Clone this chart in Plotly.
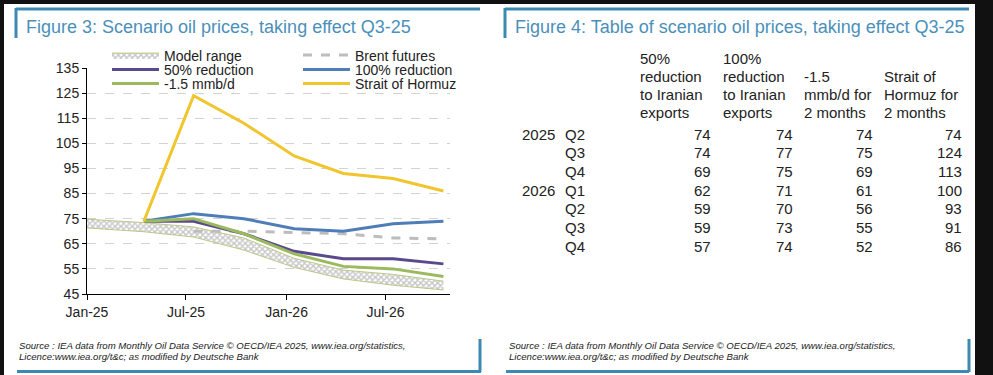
import plotly.graph_objects as go

# ---------------- data ----------------
quarter_dates = ["2025-04-15", "2025-07-15", "2025-10-15", "2026-01-15",
                 "2026-04-15", "2026-07-15", "2026-10-15"]
row_years = ["2025", "", "", "2026", "", "", ""]
row_quarters = ["Q2", "Q3", "Q4", "Q1", "Q2", "Q3", "Q4"]

red50 = [74, 74, 69, 62, 59, 59, 57]
red100 = [74, 77, 75, 71, 70, 73, 74]
mmbd = [74, 75, 69, 61, 56, 55, 52]
hormuz = [74, 124, 113, 100, 93, 91, 86]

brent_dates = ["2025-07-15", "2025-10-15", "2026-01-15", "2026-04-15", "2026-07-15", "2026-10-15"]
brent = [70, 70, 69.5, 69, 67.3, 67]

band_dates = ["2025-01-01", "2025-04-15", "2025-07-15", "2025-10-15", "2026-01-15",
              "2026-04-15", "2026-07-15", "2026-10-15"]
band_low = [71.3, 69.8, 67.7, 62.5, 55.6, 51.0, 48.5, 46.6]
band_high = [74.8, 73.4, 71.7, 67.3, 59.2, 54.5, 52.8, 50.1]

table_headers = [
    ["50%", "reduction", "to Iranian", "exports"],
    ["100%", "reduction", "to Iranian", "exports"],
    ["", "-1.5", "mmb/d for", "2 months"],
    ["", "Strait of", "Hormuz for", "2 months"],
]
table_values = [red50, red100, mmbd, hormuz]

title_left = "Figure 3: Scenario oil prices, taking effect Q3-25"
title_right = "Figure 4: Table of scenario oil prices, taking effect Q3-25"
source_lines = ["Source : IEA data from Monthly Oil Data Service © OECD/IEA 2025, www.iea.org/statistics,",
                "Licence:www.iea.org/t&amp;c; as modified by Deutsche Bank"]

# ---------------- figure ----------------
W, H = 993, 375
FONT = "Liberation Sans, Arial, Helvetica, sans-serif"
TXT = "#222222"
BLUE_TITLE = "#4b90bb"
BLUE_LINE = "#3d89b3"


def px(x):
    return x / W


def py(y):
    return 1 - y / H


fig = go.Figure()

band_line = dict(color="#bcc885", width=1)
fig.add_trace(go.Scatter(x=band_dates, y=band_low, mode="lines", line=band_line,
                         showlegend=False, hoverinfo="skip"))
fig.add_trace(go.Scatter(x=band_dates, y=band_high, mode="lines", line=band_line,
                         fill="tonexty", fillcolor="white",
                         fillpattern=dict(shape="x", size=4, solidity=0.6,
                                          fgcolor="#8e8e8e", bgcolor="white"),
                         name="Model range", legend="legend"))
fig.add_trace(go.Scatter(x=brent_dates, y=brent, mode="lines", name="Brent futures",
                         line=dict(color="#bdbdbd", width=3, dash="dash"), legend="legend2"))
fig.add_trace(go.Scatter(x=quarter_dates, y=red50, mode="lines", name="50% reduction",
                         line=dict(color="#5b4a8b", width=3), legend="legend3"))
fig.add_trace(go.Scatter(x=quarter_dates, y=red100, mode="lines", name="100% reduction",
                         line=dict(color="#4f7db8", width=3), legend="legend4"))
fig.add_trace(go.Scatter(x=quarter_dates, y=mmbd, mode="lines", name="-1.5 mmb/d",
                         line=dict(color="#9bba5f", width=3), legend="legend5"))
fig.add_trace(go.Scatter(x=quarter_dates, y=hormuz, mode="lines", name="Strait of Hormuz",
                         line=dict(color="#f0c52e", width=3), legend="legend6"))


def leg(x, y):
    return dict(x=px(x), y=py(y), xanchor="left", yanchor="middle",
                bgcolor="rgba(0,0,0,0)", borderwidth=0, itemwidth=47,
                font=dict(family=FONT, size=14, color=TXT))


layout_legends = {
    "legend": leg(107, 55.5),
    "legend2": leg(298, 55.5),
    "legend3": leg(107, 70),
    "legend4": leg(298, 70),
    "legend5": leg(107, 84),
    "legend6": leg(298, 84),
}

shapes = [
    dict(type="rect", xref="paper", yref="paper", x0=px(4), x1=px(975), y0=0, y1=py(4),
         fillcolor="white", line=dict(width=0), layer="below"),
]
for (x0, y0, x1, y1) in [
    (16, 9, 480, 9), (16, 8, 16, 38), (17, 371.5, 481, 371.5), (480, 339, 480, 372),
    (505, 9, 969, 9), (505, 8, 505, 38), (506, 371.5, 969, 371.5), (969, 339, 969, 372),
]:
    shapes.append(dict(type="line", xref="paper", yref="paper", x0=px(x0), x1=px(x1),
                       y0=py(y0), y1=py(y1), line=dict(color=BLUE_LINE, width=3)))

annotations = []
for tx, t in [(24, title_left), (513, title_right)]:
    annotations.append(dict(text=t, xref="paper", yref="paper", x=px(tx), y=py(27),
                            xanchor="left", yanchor="middle", showarrow=False,
                            font=dict(family=FONT, size=18, color=BLUE_TITLE)))
for sx in [17, 507]:
    for i, line in enumerate(source_lines):
        annotations.append(dict(text="<i>" + line + "</i>", xref="paper", yref="paper",
                                x=px(sx), y=py(345.5 + 10.5 * i), xanchor="left",
                                yanchor="middle", showarrow=False,
                                font=dict(family=FONT, size=9.6, color=TXT)))

# table
head_x = [638, 721, 802, 882]
num_right = [713, 795, 875, 964]
head_y = [58, 76.5, 94.5, 112.5]
row_y0, row_dy = 134.3, 18.67
tfont = dict(family=FONT, size=15, color=TXT)
for c, lines in enumerate(table_headers):
    for j, s in enumerate(lines):
        if s:
            annotations.append(dict(text=s, xref="paper", yref="paper", x=px(head_x[c]),
                                    y=py(head_y[j]), xanchor="left", yanchor="middle",
                                    showarrow=False, font=tfont))
for r in range(len(row_quarters)):
    yy = py(row_y0 + r * row_dy)
    if row_years[r]:
        annotations.append(dict(text=row_years[r], xref="paper", yref="paper", x=px(557),
                                y=yy, xanchor="right", yanchor="middle", showarrow=False,
                                font=tfont))
    annotations.append(dict(text=row_quarters[r], xref="paper", yref="paper", x=px(563),
                            y=yy, xanchor="left", yanchor="middle", showarrow=False,
                            font=tfont))
    for c, vals in enumerate(table_values):
        annotations.append(dict(text=str(vals[r]), xref="paper", yref="paper",
                                x=px(num_right[c]), y=yy, xanchor="right",
                                yanchor="middle", showarrow=False, font=tfont))

fig.update_layout(
    width=W, height=H, autosize=False,
    margin=dict(l=0, r=0, t=0, b=0, pad=0, autoexpand=False),
    paper_bgcolor="#111111", plot_bgcolor="rgba(0,0,0,0)",
    font=dict(family=FONT, size=14, color=TXT),
    shapes=shapes, annotations=annotations,
    hovermode=False,
    **layout_legends,
)
fig.update_xaxes(domain=[px(87), px(450)], type="date", automargin=False,
                 range=["2025-01-01", "2026-10-27"], dtick="M6", tick0="2025-01-01",
                 tickformat="%b-%y", ticks="outside", ticklen=5, tickcolor="black",
                 showline=True, linecolor="black", linewidth=1, showgrid=False,
                 zeroline=False, tickfont=dict(family=FONT, size=14, color=TXT))
fig.update_yaxes(domain=[py(294), py(68)], range=[45, 135], dtick=10, tick0=45,
                 automargin=False,
                 ticks="outside", ticklen=4, tickcolor="black",
                 showline=True, linecolor="black", linewidth=1,
                 showgrid=True, gridcolor="#d3d3d3", griddash="dash", gridwidth=1,
                 zeroline=False, tickfont=dict(family=FONT, size=14, color=TXT))

fig.write_html(
    "out.html",
    config={"displayModeBar": False},
    post_script="document.body.style.margin='0px';document.body.style.overflow='hidden';",
)
